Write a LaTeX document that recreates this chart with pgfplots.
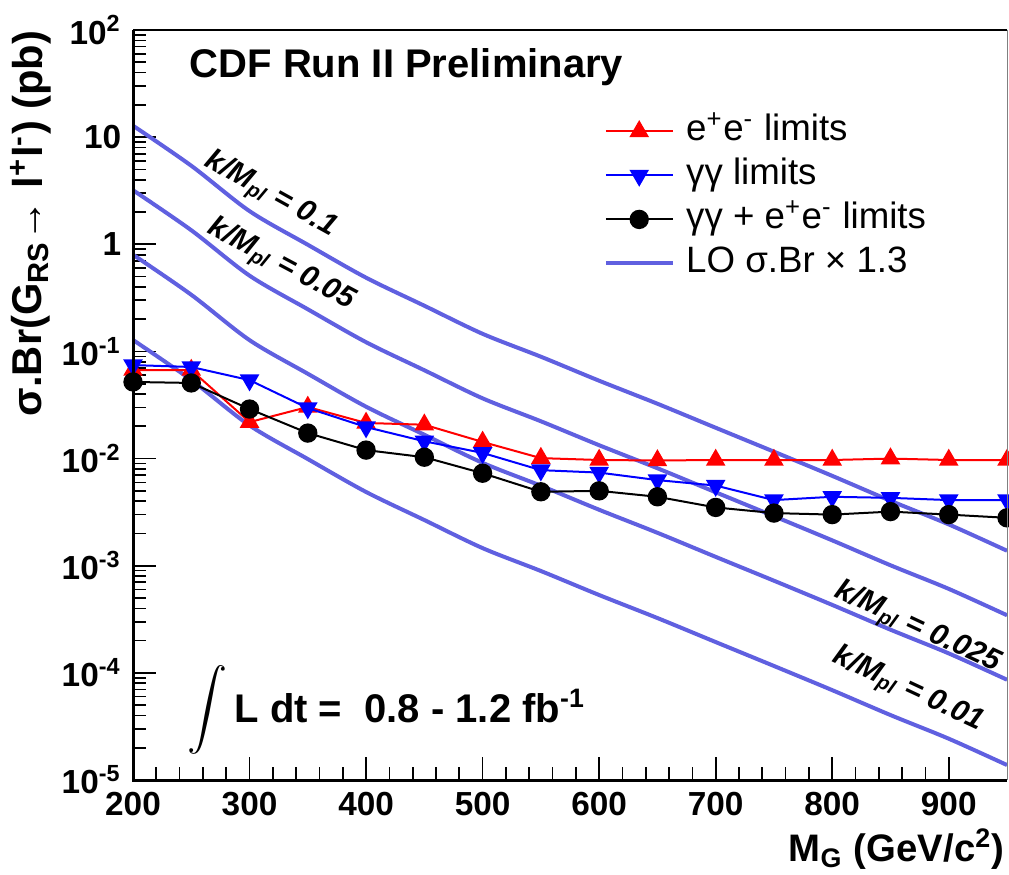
\documentclass[border=0pt]{standalone}
\usepackage{fontspec}
\setmainfont{Liberation Sans}
\usepackage{pgfplots}
\pgfplotsset{compat=1.18}
\definecolor{lo}{RGB}{96,96,224}
\definecolor{rred}{RGB}{255,0,0}
\definecolor{rblue}{RGB}{0,0,255}

\begin{document}
\begin{tikzpicture}
\begin{axis}[
  scale only axis, width=262.2pt, height=225pt,
  xmin=200, xmax=950, ymin=1e-5, ymax=100, ymode=log,
  axis line style={draw=none},
  clip mode=individual,
  tick align=inside, xtick pos=bottom, ytick pos=left,
  major tick length=7pt, minor tick length=4pt,
  every tick/.style={black, line width=0.5pt},
  xtick={200,300,...,900}, minor x tick num=4,
  ytick={1e-5,1e-4,1e-3,1e-2,1e-1,1,10,100},
  yticklabels={10\textsuperscript{-5},10\textsuperscript{-4},10\textsuperscript{-3},10\textsuperscript{-2},10\textsuperscript{-1},1,10,10\textsuperscript{2}},
  /pgf/number format/assume math mode=true,
  x tick label style={font=\fontsize{10}{12}\selectfont\bfseries},
  y tick label style={font=\fontsize{10}{12}\selectfont\bfseries},
  legend style={at={(0.538,0.889)}, anchor=north west, draw=none, fill=none,
    inner sep=0pt, row sep=2.7pt, font=\fontsize{11}{13}\selectfont,
    nodes={inner sep=0pt, text height=8pt, text depth=2.5pt},
    /tikz/every odd column/.append style={column sep=3.5pt}},
  legend cell align=left,
  legend image code/.code={\draw[mark repeat=2,mark phase=2,#1] plot coordinates {(0pt,0pt)(10pt,0pt)(20pt,0pt)};},
]
% LO sigma.Br x 1.3 curves, k/Mpl = 0.1, 0.05, 0.025, 0.01
\addplot[lo, line width=1.2pt, smooth, tension=0.5, forget plot] coordinates {
 (200,12.8)(250,5.41)(300,2.04)(350,0.99)(400,0.488)(450,0.267)(500,0.146)(550,0.0893)
 (600,0.0533)(650,0.0325)(700,0.0194)(750,0.0116)(800,0.0069)(850,0.00404)(900,0.00243)(950,0.00138)};
\addplot[lo, line width=1.2pt, smooth, tension=0.5, forget plot] coordinates {
 (200,3.2)(250,1.3525)(300,0.51)(350,0.2475)(400,0.122)(450,0.06675)(500,0.0365)(550,0.0223)
 (600,0.01333)(650,0.008125)(700,0.00485)(750,0.0029)(800,0.001725)(850,0.00101)(900,0.000608)(950,0.000345)};
\addplot[lo, line width=1.2pt, smooth, tension=0.5, forget plot] coordinates {
 (200,0.8)(250,0.338)(300,0.1275)(350,0.0619)(400,0.0305)(450,0.0167)(500,0.009125)(550,0.00558)
 (600,0.00333)(650,0.00203)(700,0.00121)(750,0.000725)(800,0.000431)(850,0.000253)(900,0.000152)(950,0.0000863)};
\addplot[lo, line width=1.2pt, smooth, tension=0.5, forget plot] coordinates {
 (200,0.128)(250,0.0541)(300,0.0204)(350,0.0099)(400,0.00488)(450,0.00267)(500,0.00146)(550,0.000893)
 (600,0.000533)(650,0.000325)(700,0.000194)(750,0.000116)(800,0.000069)(850,0.0000404)(900,0.0000243)(950,0.0000138)};

% e+e- limits
\addplot[rred, line width=0.6pt, mark=triangle*, mark size=2.8pt] coordinates {
 (200,0.067)(250,0.067)(300,0.0219)(350,0.0303)(400,0.0215)(450,0.0207)(500,0.0143)(550,0.0101)
 (600,0.0097)(650,0.0096)(700,0.0097)(750,0.0097)(800,0.0097)(850,0.0100)(900,0.0097)(950,0.0097)};
\addlegendentry{e\textsuperscript{+}e\textsuperscript{-} limits}
% gamma gamma limits
\addplot[rblue, line width=0.6pt, mark=triangle*, mark size=2.8pt, mark options={rotate=180}] coordinates {
 (200,0.0746)(250,0.0716)(300,0.054)(350,0.0296)(400,0.0197)(450,0.0145)(500,0.0113)(550,0.0078)
 (600,0.0074)(650,0.0063)(700,0.0056)(750,0.0041)(800,0.0044)(850,0.0043)(900,0.0041)(950,0.0041)};
\addlegendentry{γγ limits}
% combined
\addplot[black, line width=0.6pt, mark=*, mark size=2.6pt] coordinates {
 (200,0.0519)(250,0.0508)(300,0.029)(350,0.0173)(400,0.012)(450,0.0103)(500,0.0073)(550,0.0049)
 (600,0.0050)(650,0.0044)(700,0.0035)(750,0.0031)(800,0.0030)(850,0.0032)(900,0.0030)(950,0.0028)};
\addlegendentry{γγ + e\textsuperscript{+}e\textsuperscript{-} limits}
\addlegendimage{lo, line width=1.2pt}
\addlegendentry{LO σ.Br × 1.3}

% frame
\draw[line width=0.9pt] (rel axis cs:0,1) -- (rel axis cs:0,0) -- (rel axis cs:1,0);
\draw[line width=0.6pt] (rel axis cs:0,1) -- (rel axis cs:1,1);
\draw[gray, line width=0.3pt] (rel axis cs:1,1) -- (rel axis cs:1,0);

% texts
\node[anchor=base west, font=\fontsize{12}{14}\selectfont\bfseries] at (rel axis cs:0.0515,0.936) {CDF Run II Preliminary};
\node[anchor=west, font=\fontsize{12}{14}\selectfont\bfseries] at (axis cs:237,4.5e-5) {\scalebox{1.2}{$\displaystyle\int$}\,L dt =\ \ 0.8 - 1.2 fb\textsuperscript{-1}};
\node[rotate=-29, font=\fontsize{9}{10}\selectfont\bfseries\itshape] at (axis cs:318,2.88) {k/M\textsubscript{pl} = 0.1};
\node[rotate=-28, font=\fontsize{9}{10}\selectfont\bfseries\itshape] at (axis cs:327,0.64) {k/M\textsubscript{pl} = 0.05};
\node[rotate=-25, font=\fontsize{9}{10}\selectfont\bfseries\itshape] at (axis cs:873,2.62e-4) {k/M\textsubscript{pl} = 0.025};
\node[rotate=-25, font=\fontsize{9}{10}\selectfont\bfseries\itshape] at (axis cs:865,6.9e-5) {k/M\textsubscript{pl} = 0.01};
\node[rotate=90, anchor=base east, inner sep=0pt, font=\fontsize{12.5}{14}\selectfont\bfseries] at ([xshift=-27.3pt]rel axis cs:0,1) {σ.Br(G\textsubscript{RS}→ l\textsuperscript{+}l\textsuperscript{-}) (pb)};
\node[anchor=base east, inner sep=0pt, font=\fontsize{11.5}{14}\selectfont\bfseries] at ([xshift=-0.5pt,yshift=-24.5pt]rel axis cs:1,0) {M\textsubscript{G} (GeV/c\textsuperscript{2})};
\end{axis}
\pgfresetboundingbox
\path (current axis.south west) ++(-39.9pt,-28.2pt) rectangle (current axis.north east) ++(0.6pt,9pt);
\end{tikzpicture}
\end{document}
